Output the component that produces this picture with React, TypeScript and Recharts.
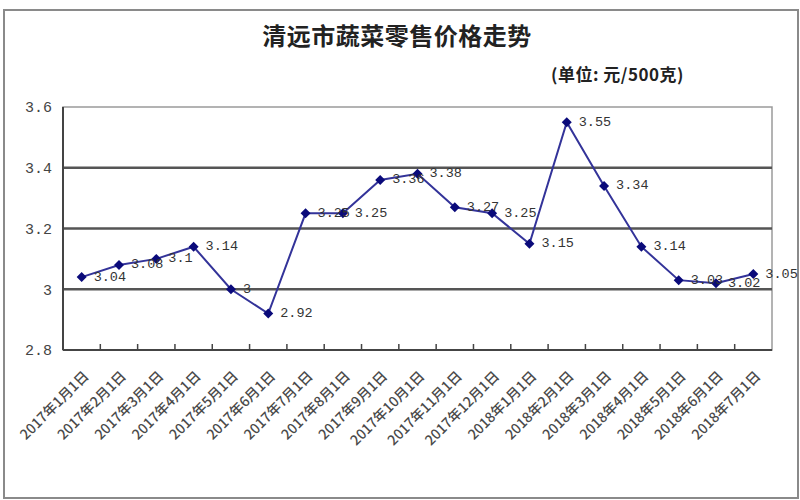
import { LineChart, Line, XAxis, YAxis, ReferenceArea, ReferenceLine, LabelList } from "recharts";

const dates = [
  "2017年1月1日", "2017年2月1日", "2017年3月1日", "2017年4月1日", "2017年5月1日",
  "2017年6月1日", "2017年7月1日", "2017年8月1日", "2017年9月1日", "2017年10月1日",
  "2017年11月1日", "2017年12月1日", "2018年1月1日", "2018年2月1日", "2018年3月1日",
  "2018年4月1日", "2018年5月1日", "2018年6月1日", "2018年7月1日",
];
const prices = [3.04, 3.08, 3.1, 3.14, 3, 2.92, 3.25, 3.25, 3.36, 3.38, 3.27, 3.25, 3.15, 3.55, 3.34, 3.14, 3.03, 3.02, 3.05];
const yTicks = [2.8, 3, 3.2, 3.4, 3.6];
const gridValues = [3, 3.2, 3.4];

const data = dates.map((date, i) => ({ date, price: prices[i] }));

const W = 800;
const H = 500;
const MARGIN = { top: 107, right: 28, bottom: 10, left: 0 };
const Y_WIDTH = 63;
const BAND = (W - MARGIN.left - MARGIN.right - Y_WIDTH) / dates.length;
const MONO = "'Liberation Mono', 'DejaVu Sans Mono', monospace";
const CJK = "'Noto Sans CJK SC', sans-serif";

function DateTick(props: any) {
  const { x, y, payload, index } = props;
  const ex = x + 8;
  const ey = y + 27;
  return (
    <g>
      {index < dates.length - 1 && (
        <line x1={x + BAND / 2} y1={y} x2={x + BAND / 2} y2={y - 6} stroke="#444" strokeWidth={1.5} />
      )}
      <text
        x={ex}
        y={ey}
        textAnchor="end"
        transform={`rotate(-45, ${ex}, ${ey})`}
        fontSize={14}
        fontWeight={500}
        fontFamily={CJK}
        fill="#4a4a4a"
      >
        {payload.value}
      </text>
    </g>
  );
}

function Diamond(props: any) {
  const { cx, cy } = props;
  if (cx == null || cy == null) return null;
  const r = 5;
  return <polygon points={`${cx},${cy - r} ${cx + r},${cy} ${cx},${cy + r} ${cx - r},${cy}`} fill="#0a0a7a" />;
}

function PriceLabel(props: any) {
  const { x, y, value } = props;
  return (
    <text x={x + 12} y={y} dominantBaseline="central" fontSize={13.5} fontFamily={MONO} fill="#333">
      {value}
    </text>
  );
}

export default function App() {
  return (
    <div style={{ position: "absolute", left: 0, top: 0, width: W, height: H, background: "#fff", fontFamily: CJK }}>
      <div
        style={{
          position: "absolute", left: 3, top: 9, width: W - 8, height: H - 14,
          border: "2px solid #8a8a8a",
        }}
      />
      <div
        style={{
          position: "absolute", left: 0, width: W - 6, top: 17, textAlign: "center",
          fontSize: 24, fontWeight: 700, color: "#222", letterSpacing: 0.5,
        }}
      >
        清远市蔬菜零售价格走势
      </div>
      <div style={{ position: "absolute", left: 551, top: 61, fontSize: 17, fontWeight: 700, color: "#222", letterSpacing: 0.5 }}>
        (单位: 元/500克)
      </div>
      <div style={{ position: "absolute", left: 0, top: 0 }}>
        <LineChart width={W} height={H} data={data} margin={MARGIN}>
          <ReferenceArea y1={2.8} y2={3.6} fill="none" stroke="#9a9a9a" strokeWidth={1.5} ifOverflow="visible" />
          {gridValues.map((v) => (
            <ReferenceLine key={v} y={v} stroke="#555" strokeWidth={2.5} />
          ))}
          <XAxis
            dataKey="date"
            scale="band"
            interval={0}
            height={140}
            tickLine={false}
            tickSize={0}
            tickMargin={0}
            axisLine={{ stroke: "#444", strokeWidth: 2 }}
            tick={<DateTick />}
          />
          <YAxis
            width={Y_WIDTH}
            domain={[2.8, 3.6]}
            ticks={yTicks}
            interval={0}
            tickLine={false}
            tickSize={0}
            tickMargin={11}
            axisLine={{ stroke: "#444", strokeWidth: 2 }}
            tick={{ fontSize: 15, fontFamily: MONO, fill: "#444" }}
          />
          <Line
            dataKey="price"
            type="linear"
            stroke="#333399"
            strokeWidth={2}
            dot={<Diamond />}
            activeDot={false}
            isAnimationActive={false}
          >
            <LabelList dataKey="price" content={<PriceLabel />} />
          </Line>
        </LineChart>
      </div>
    </div>
  );
}
